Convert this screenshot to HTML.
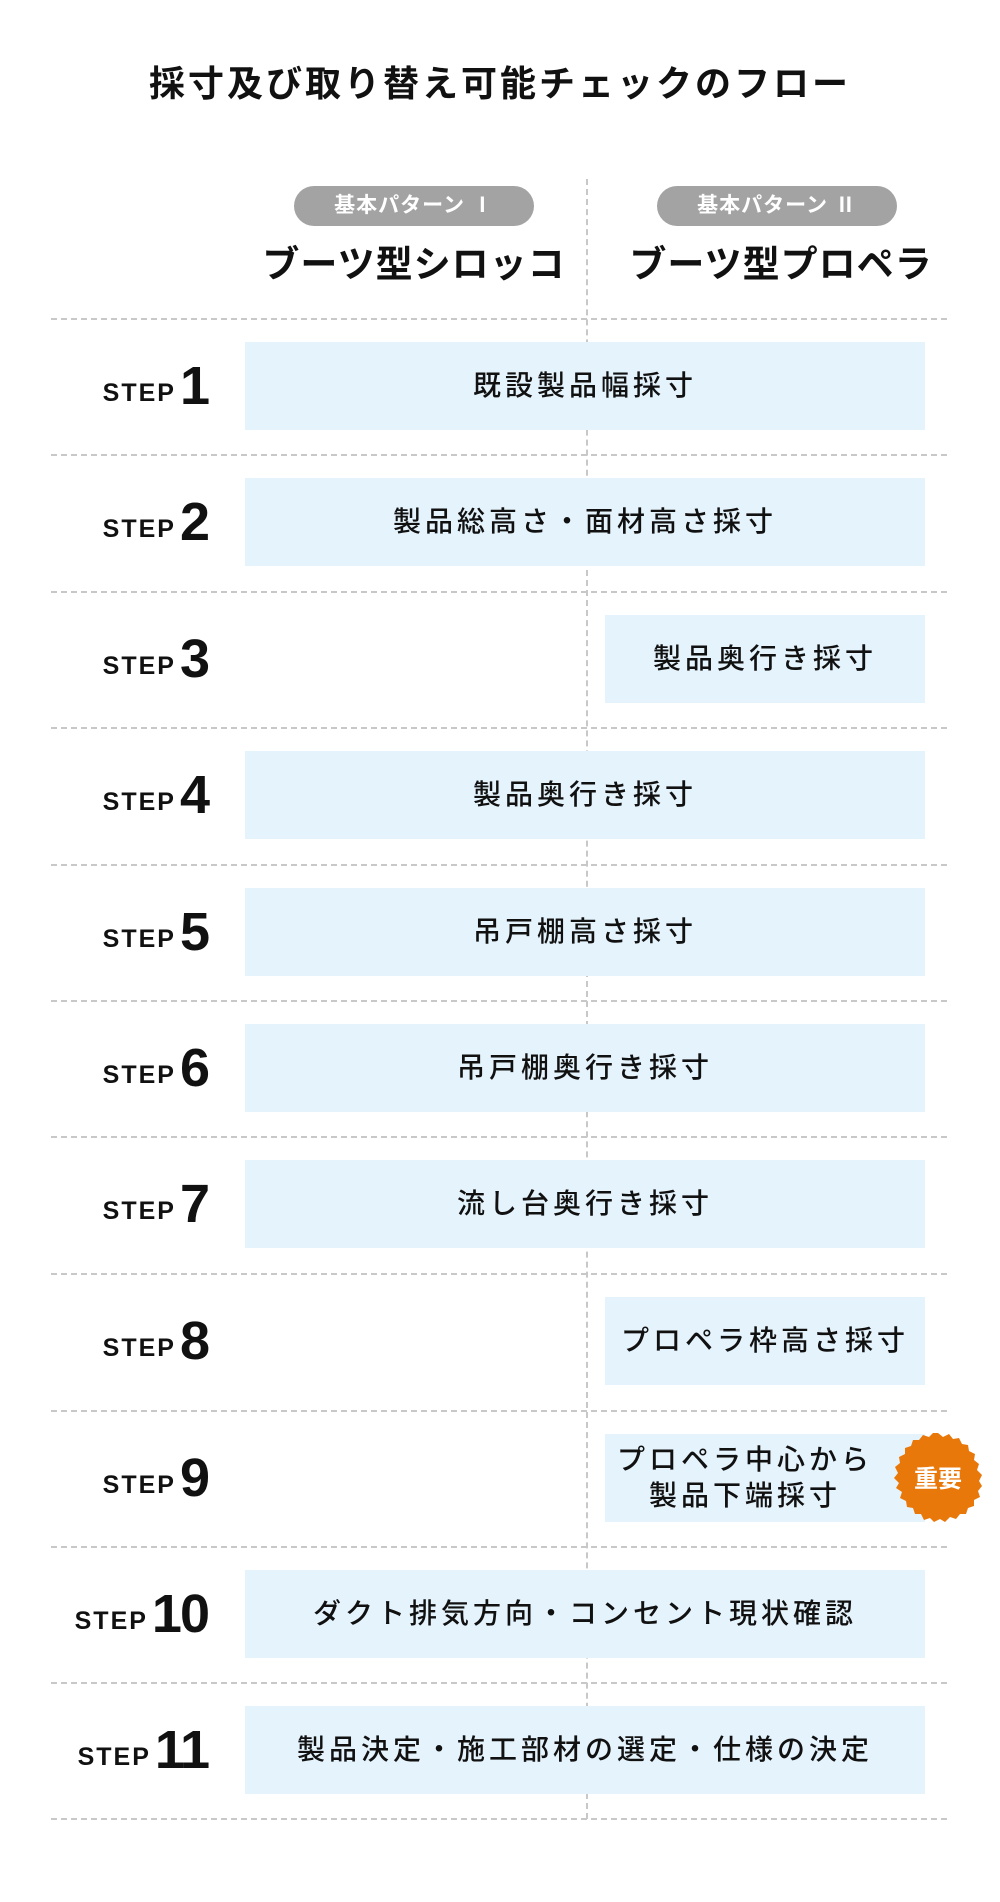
<!DOCTYPE html>
<html><head><meta charset="utf-8"><style>
*{margin:0;padding:0;box-sizing:border-box}
body{width:1000px;height:1902px;background:#fff;position:relative;overflow:hidden;font-family:"Liberation Sans","Noto Sans CJK JP",sans-serif;color:#111}
.a{position:absolute}
.title{left:0;width:1000px;top:62px;text-align:center;font-size:36px;font-weight:bold;letter-spacing:3px;line-height:44px}
.pill{height:40px;border-radius:20px;background:#a3a3a3;color:#fff;font-size:21px;font-weight:bold;line-height:40px;text-align:center;top:186px;width:240px;letter-spacing:1px}
.hd{top:241px;font-size:37px;font-weight:bold;letter-spacing:1px;line-height:48px;text-align:center;width:340px}
.hl{left:51px;width:896px;height:0;border-top:2px dashed #c8c8c8}
.vl{left:586px;top:179px;height:1640px;width:0;border-left:2px dashed #c8c8c8}
.box{background:#e5f3fc;height:88px;display:flex;align-items:center;justify-content:center;text-align:center;font-size:28px;font-weight:500;letter-spacing:4px;line-height:36px}
.full{left:245px;width:680px}
.right{left:605px;width:320px}
.step{left:0;width:208px;text-align:right;height:88px;display:flex;align-items:center;justify-content:flex-end;font-weight:bold}
.step .s{font-size:25px;letter-spacing:2px;margin-top:14px}
.step .n{font-size:54px;margin-left:4px;letter-spacing:-2px}
</style></head><body>
<div class="a title">採寸及び取り替え可能チェックのフロー</div>
<div class="a vl"></div>
<div class="a pill" style="left:294px">基本パターン Ⅰ</div>
<div class="a pill" style="left:657px">基本パターン Ⅱ</div>
<div class="a hd" style="left:244px">ブーツ型シロッコ</div>
<div class="a hd" style="left:611px">ブーツ型プロペラ</div>

<div class="a hl" style="top:318px"></div>
<div class="a hl" style="top:454px"></div>
<div class="a hl" style="top:591px"></div>
<div class="a hl" style="top:727px"></div>
<div class="a hl" style="top:864px"></div>
<div class="a hl" style="top:1000px"></div>
<div class="a hl" style="top:1136px"></div>
<div class="a hl" style="top:1273px"></div>
<div class="a hl" style="top:1410px"></div>
<div class="a hl" style="top:1546px"></div>
<div class="a hl" style="top:1682px"></div>
<div class="a hl" style="top:1818px"></div>

<div class="a step" style="top:342px"><span class="s">STEP</span><span class="n">1</span></div>
<div class="a box full" style="top:342px">既設製品幅採寸</div>
<div class="a step" style="top:478px"><span class="s">STEP</span><span class="n">2</span></div>
<div class="a box full" style="top:478px">製品総高さ・面材高さ採寸</div>
<div class="a step" style="top:615px"><span class="s">STEP</span><span class="n">3</span></div>
<div class="a box right" style="top:615px">製品奥行き採寸</div>
<div class="a step" style="top:751px"><span class="s">STEP</span><span class="n">4</span></div>
<div class="a box full" style="top:751px">製品奥行き採寸</div>
<div class="a step" style="top:888px"><span class="s">STEP</span><span class="n">5</span></div>
<div class="a box full" style="top:888px">吊戸棚高さ採寸</div>
<div class="a step" style="top:1024px"><span class="s">STEP</span><span class="n">6</span></div>
<div class="a box full" style="top:1024px">吊戸棚奥行き採寸</div>
<div class="a step" style="top:1160px"><span class="s">STEP</span><span class="n">7</span></div>
<div class="a box full" style="top:1160px">流し台奥行き採寸</div>
<div class="a step" style="top:1297px"><span class="s">STEP</span><span class="n">8</span></div>
<div class="a box right" style="top:1297px">プロペラ枠高さ採寸</div>
<div class="a step" style="top:1434px"><span class="s">STEP</span><span class="n">9</span></div>
<div class="a box right" style="top:1434px;padding-right:40px">プロペラ中心から<br>製品下端採寸</div>
<svg class="a" style="left:891px;top:1431px" width="94" height="94" viewBox="-47 -47 94 94">
<path fill="#e8780a" d="M0,-45 L5,-41 L11,-44 L15,-39 L21,-40 L24,-34 L30,-33 L31,-27 L37,-24 L36,-18 L41,-14 L39,-8 L44,-3 L41,3 L44,8 L40,13 L42,19 L36,22 L36,28 L30,30 L28,36 L22,36 L18,41 L12,39 L7,44 L2,41 L-4,44 L-8,40 L-14,42 L-17,36 L-23,36 L-25,30 L-31,29 L-32,23 L-38,20 L-36,14 L-42,10 L-39,5 L-44,0 L-40,-5 L-43,-11 L-38,-15 L-39,-21 L-33,-24 L-33,-30 L-27,-32 L-25,-38 L-19,-38 L-15,-43 L-9,-41 L-5,-45 Z"/>
<text x="0" y="9" text-anchor="middle" fill="#fff" font-size="24" font-weight="bold" font-family="Liberation Sans, Noto Sans CJK JP, sans-serif">重要</text>
</svg>
<div class="a step" style="top:1570px"><span class="s">STEP</span><span class="n">10</span></div>
<div class="a box full" style="top:1570px">ダクト排気方向・コンセント現状確認</div>
<div class="a step" style="top:1706px"><span class="s">STEP</span><span class="n">11</span></div>
<div class="a box full" style="top:1706px">製品決定・施工部材の選定・仕様の決定</div>
</body></html>
